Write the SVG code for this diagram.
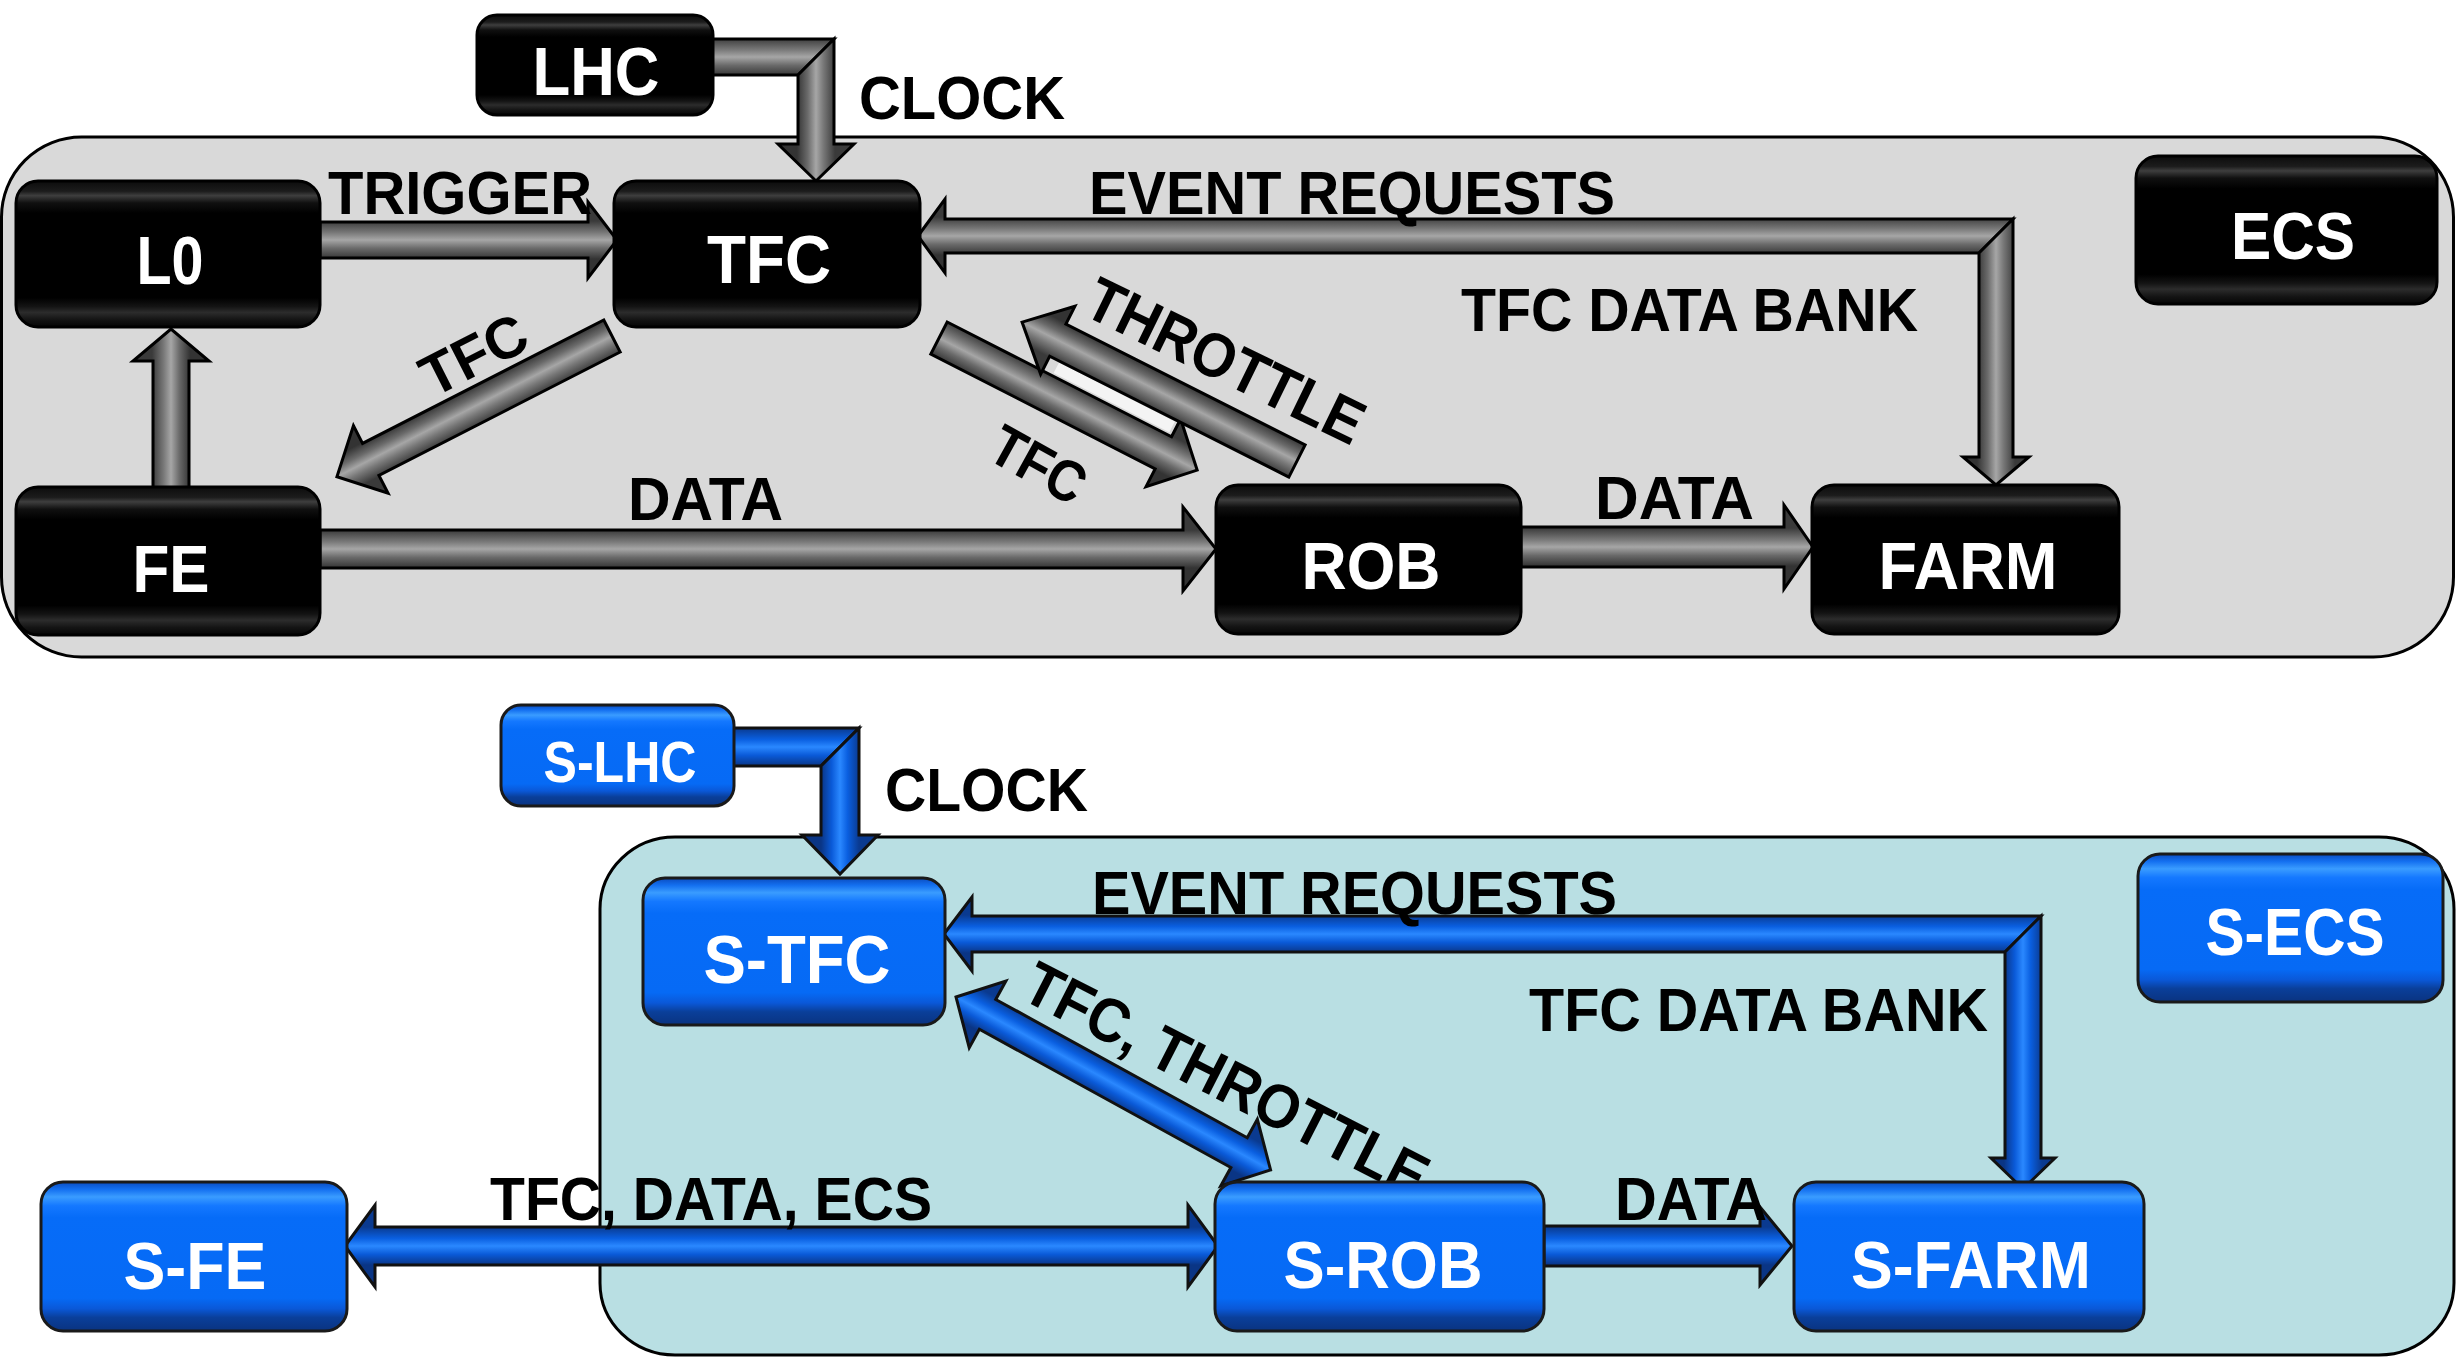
<svg xmlns="http://www.w3.org/2000/svg" width="2457" height="1358" viewBox="0 0 2457 1358">
<defs>
<linearGradient id="gBlack" x1="0" y1="0" x2="0" y2="1">
<stop offset="0" stop-color="#0c0c0c"/><stop offset="0.07" stop-color="#1c1c1c"/><stop offset="0.1" stop-color="#3e3e3e"/><stop offset="0.15" stop-color="#101010"/><stop offset="0.22" stop-color="#000"/><stop offset="0.8" stop-color="#000"/><stop offset="0.86" stop-color="#141414"/><stop offset="0.9" stop-color="#2c2c2c"/><stop offset="0.95" stop-color="#141414"/><stop offset="1" stop-color="#050505"/>
</linearGradient>
<linearGradient id="gBlue" x1="0" y1="0" x2="0" y2="1">
<stop offset="0" stop-color="#0a4cc0"/><stop offset="0.05" stop-color="#1470f0"/><stop offset="0.1" stop-color="#3a9cff"/><stop offset="0.16" stop-color="#1478ff"/><stop offset="0.24" stop-color="#066cf8"/><stop offset="0.78" stop-color="#066af5"/><stop offset="0.85" stop-color="#0a58d8"/><stop offset="0.91" stop-color="#0a3f9a"/><stop offset="1" stop-color="#0a3380"/>
</linearGradient>
<linearGradient id="aGray" gradientUnits="userSpaceOnUse" x1="0" y1="-19" x2="0" y2="19">
<stop offset="0" stop-color="#3a3a3a"/><stop offset="0.3" stop-color="#777"/><stop offset="0.5" stop-color="#a6a6a6"/><stop offset="0.72" stop-color="#6a6a6a"/><stop offset="1" stop-color="#333"/>
</linearGradient>
<linearGradient id="aBlue" gradientUnits="userSpaceOnUse" x1="0" y1="-19" x2="0" y2="19">
<stop offset="0" stop-color="#0a3a90"/><stop offset="0.3" stop-color="#0a5fe0"/><stop offset="0.5" stop-color="#2a88ff"/><stop offset="0.72" stop-color="#0a5ad8"/><stop offset="1" stop-color="#0a3585"/>
</linearGradient>
<style>
.cont{stroke:#000;stroke-width:3}
.nb rect{fill:url(#gBlack);stroke:#000;stroke-width:3}
.nu rect{fill:url(#gBlue);stroke:#1a1a1a;stroke-width:3}
.nt{font-family:"Liberation Sans",Arial,sans-serif;font-weight:bold;fill:#fff;text-anchor:middle}
.lb{font-family:"Liberation Sans",Arial,sans-serif;font-weight:bold;fill:#000;font-size:62px}
.ag{fill:url(#aGray);stroke:#000;stroke-width:3;stroke-linejoin:miter}
.ab{fill:url(#aBlue);stroke:#111;stroke-width:3;stroke-linejoin:miter}
</style>
</defs>
<rect width="2457" height="1358" fill="#fff"/>
<g id="containers">
<rect class="cont" x="1.5" y="137" width="2452" height="520" rx="80" ry="80" fill="#d9d9d9"/>
<rect class="cont" x="600" y="837" width="1854" height="518" rx="75" ry="72" fill="#b9dfe3"/>
</g>
<g id="connectors">
<polygon class="ag" transform="translate(710,57)" points="0,-18 124,-18 88,18 0,18"/>
<polygon class="ag" transform="translate(816,57) rotate(90)" points="-18,-18 87,-18 87,-38 124,0 87,38 87,18 18,18"/>
<polygon class="ag" transform="translate(320,240)" points="0,-18 268,-18 268,-38 297,0 268,38 268,18 0,18"/>
<polygon class="ag" transform="translate(171,490) rotate(-90)" points="0,-18 129,-18 129,-38 161,0 129,38 129,18 0,18"/>
<polygon class="ag" transform="translate(612,336) rotate(152.9)" points="0,-18 271,-18 271,-38 309,0 271,38 271,18 0,18"/>
<polygon transform="translate(939,338) rotate(27.1)" points="118,-33 248,-33 248,-21 118,-21" fill="#f4f4f4"/>
<polygon class="ag" transform="translate(939,338) rotate(27.1)" points="0,-18 252,-18 252,-38 290,0 252,38 252,18 0,18"/>
<polygon class="ag" transform="translate(1297,461) rotate(206.8)" points="0,-18 268,-18 268,-38 308,0 268,38 268,18 0,18"/>
<polygon class="ag" transform="translate(320,549)" points="0,-19 863,-19 863,-42 896,0 863,42 863,19 0,19"/>
<polygon class="ag" transform="translate(1521,547)" points="0,-20 263,-20 263,-42 292,0 263,42 263,20 0,20"/>
<polygon class="ag" transform="translate(918,236)" points="0,0 27,-37 27,-17 1095,-17 1061,17 27,17 27,37"/>
<polygon class="ag" transform="translate(1996,236) rotate(90)" points="-17,-17 221,-17 221,-33 249,0 221,33 221,17 17,17"/>
<polygon class="ab" transform="translate(733,747)" points="0,-19 126,-19 88,19 0,19"/>
<polygon class="ab" transform="translate(840,747) rotate(90)" points="-19,-19 88,-19 88,-38 127,0 88,38 88,19 19,19"/>
<polygon class="ab" transform="translate(944,934)" points="0,0 28,-37 28,-18 1097,-18 1061,18 28,18 28,37"/>
<polygon class="ab" transform="translate(2023,934) rotate(90)" points="-18,-18 224,-18 224,-32 255,0 224,32 224,18 18,18"/>
<polygon class="ab" transform="translate(345,1246)" points="0,0 30,-41 30,-19 843,-19 843,-41 873,0 843,41 843,19 30,19 30,41"/>
<polygon class="ab" transform="translate(1544,1246)" points="0,-20 216,-20 216,-39 248,0 216,39 216,20 0,20"/>
<polygon class="ab" transform="translate(956,997) rotate(28.8)" points="0,0 36,-38 36,-17 323,-17 323,-38 359,0 323,38 323,17 36,17 36,38"/>
</g>
<g id="labels">
<text class="lb" x="859" y="119" textLength="206" lengthAdjust="spacingAndGlyphs">CLOCK</text>
<text class="lb" x="328" y="214" textLength="264" lengthAdjust="spacingAndGlyphs">TRIGGER</text>
<text class="lb" x="1089" y="214" textLength="526" lengthAdjust="spacingAndGlyphs">EVENT REQUESTS</text>
<text class="lb" x="1461" y="331" textLength="457" lengthAdjust="spacingAndGlyphs">TFC DATA BANK</text>
<text class="lb" x="628" y="520" textLength="155" lengthAdjust="spacingAndGlyphs">DATA</text>
<text class="lb" x="1595" y="519" textLength="159" lengthAdjust="spacingAndGlyphs">DATA</text>
<text class="lb" transform="translate(433,398) rotate(-27)" style="font-size:58px" textLength="112" lengthAdjust="spacingAndGlyphs">TFC</text>
<text class="lb" transform="translate(1081,314) rotate(26)" textLength="301" lengthAdjust="spacingAndGlyphs">THROTTLE</text>
<text class="lb" transform="translate(985,458) rotate(29)" style="font-size:58px" textLength="100" lengthAdjust="spacingAndGlyphs">TFC</text>
<text class="lb" x="885" y="811" textLength="203" lengthAdjust="spacingAndGlyphs">CLOCK</text>
<text class="lb" x="1092" y="914" textLength="525" lengthAdjust="spacingAndGlyphs">EVENT REQUESTS</text>
<text class="lb" x="1529" y="1031" textLength="459" lengthAdjust="spacingAndGlyphs">TFC DATA BANK</text>
<text class="lb" x="490" y="1220" textLength="442" lengthAdjust="spacingAndGlyphs">TFC, DATA, ECS</text>
<text class="lb" x="1615" y="1220" textLength="152" lengthAdjust="spacingAndGlyphs">DATA</text>
<text class="lb" transform="translate(1019,998) rotate(27)" textLength="444" lengthAdjust="spacingAndGlyphs">TFC, THROTTLE</text>
</g>
<g id="node-LHC" class="nb"><rect x="477" y="15" width="236" height="100" rx="20"/><text class="nt" x="596" y="95" font-size="68" textLength="127" lengthAdjust="spacingAndGlyphs">LHC</text></g>
<g id="node-L0" class="nb"><rect x="16" y="181" width="304" height="146" rx="22"/><text class="nt" x="170" y="284" font-size="68" textLength="67" lengthAdjust="spacingAndGlyphs">L0</text></g>
<g id="node-TFC" class="nb"><rect x="614" y="181" width="306" height="146" rx="22"/><text class="nt" x="769" y="283" font-size="68" textLength="124" lengthAdjust="spacingAndGlyphs">TFC</text></g>
<g id="node-ECS" class="nb"><rect x="2136" y="156" width="301" height="148" rx="22"/><text class="nt" x="2293" y="259" font-size="67" textLength="124" lengthAdjust="spacingAndGlyphs">ECS</text></g>
<g id="node-FE" class="nb"><rect x="16" y="487" width="304" height="148" rx="22"/><text class="nt" x="171" y="592" font-size="66" textLength="77" lengthAdjust="spacingAndGlyphs">FE</text></g>
<g id="node-ROB" class="nb"><rect x="1216" y="485" width="305" height="149" rx="22"/><text class="nt" x="1371" y="589" font-size="67" textLength="139" lengthAdjust="spacingAndGlyphs">ROB</text></g>
<g id="node-FARM" class="nb"><rect x="1812" y="485" width="307" height="149" rx="22"/><text class="nt" x="1968" y="589" font-size="67" textLength="179" lengthAdjust="spacingAndGlyphs">FARM</text></g>
<g id="node-S-LHC" class="nu"><rect x="501" y="705" width="233" height="101" rx="20"/><text class="nt" x="620" y="782" font-size="58" textLength="153" lengthAdjust="spacingAndGlyphs">S-LHC</text></g>
<g id="node-S-TFC" class="nu"><rect x="643" y="878" width="302" height="147" rx="22"/><text class="nt" x="797" y="983" font-size="68" textLength="187" lengthAdjust="spacingAndGlyphs">S-TFC</text></g>
<g id="node-S-ECS" class="nu"><rect x="2138" y="854" width="305" height="148" rx="22"/><text class="nt" x="2295" y="955" font-size="66" textLength="179" lengthAdjust="spacingAndGlyphs">S-ECS</text></g>
<g id="node-S-FE" class="nu"><rect x="41" y="1182" width="306" height="149" rx="22"/><text class="nt" x="195" y="1289" font-size="67" textLength="143" lengthAdjust="spacingAndGlyphs">S-FE</text></g>
<g id="node-S-ROB" class="nu"><rect x="1215" y="1182" width="329" height="149" rx="22"/><text class="nt" x="1383" y="1288" font-size="66" textLength="199" lengthAdjust="spacingAndGlyphs">S-ROB</text></g>
<g id="node-S-FARM" class="nu"><rect x="1794" y="1182" width="350" height="149" rx="22"/><text class="nt" x="1971" y="1288" font-size="66" textLength="240" lengthAdjust="spacingAndGlyphs">S-FARM</text></g>
</svg>
